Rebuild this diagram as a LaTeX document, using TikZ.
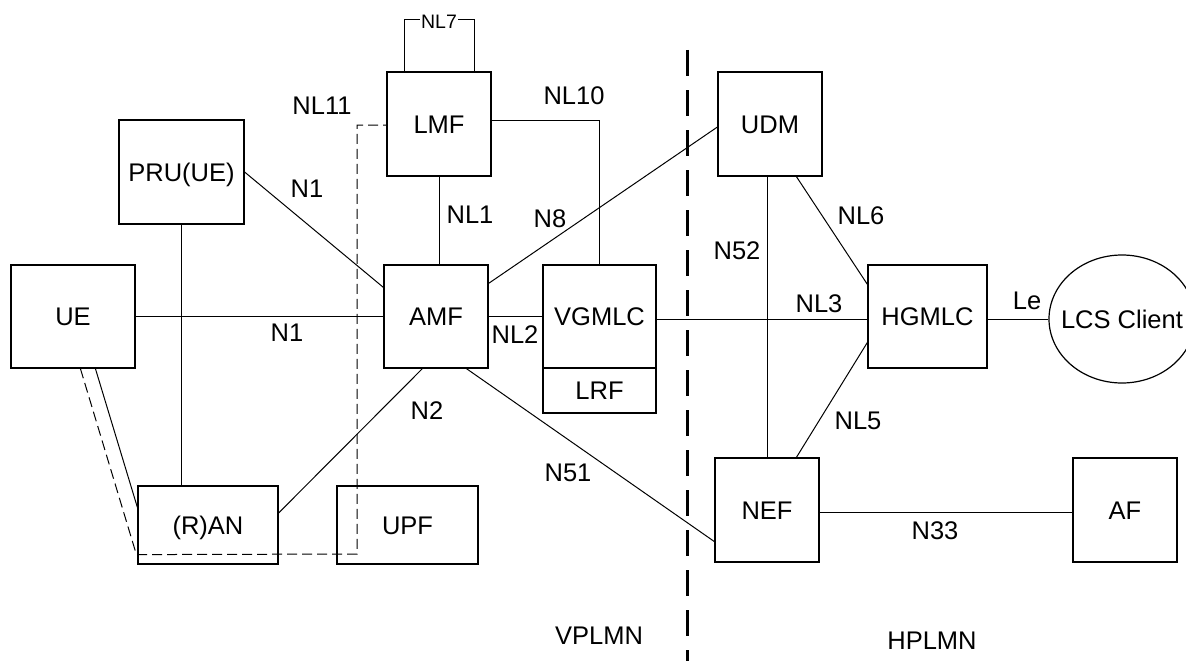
\documentclass[tikz,border=0pt]{standalone}
\usepackage{fontspec}
\setmainfont{Liberation Sans}
\usetikzlibrary{calc,shapes.geometric}
\begin{document}
\begin{tikzpicture}[x=1pt,y=-1pt,
  every node/.style={font=\fontsize{25.5}{30}\selectfont, text height=18.3pt, text depth=0pt, inner sep=0pt},
  nf/.style={draw, line width=1.2pt, minimum width=#1, minimum height=104pt},
  nf/.default=104pt,
  lbl/.style={},
  conn/.style={line width=1pt},
  thin dash/.style={line width=1pt, dash pattern=on 10pt off 5pt},
  divider/.style={line width=3pt, dash pattern=on 26pt off 14pt}]
\useasboundingbox (0,0) rectangle (1186,661);
% network functions
\node[nf=124pt, minimum height=103pt] (UE) at (73,316.5) {UE};
\node[nf=125pt] (PRU) at (181.5,172) {PRU(UE)};
\node[nf=140pt, minimum height=78pt] (RAN) at (208,525) {(R)AN};
\node[nf=141pt, minimum height=78pt] (UPF) at (407.5,525) {UPF};
\node[nf] (LMF) at (439,124) {LMF};
\node[nf, minimum height=103pt] (AMF) at (436,316.5) {AMF};
\node[nf=113pt, minimum height=103pt] (VGMLC) at (599.5,316.5) {VGMLC};
\node[nf=113pt, minimum height=45pt] (LRF) at (599.5,390.5) {LRF};
\node[nf] (UDM) at (770,124) {UDM};
\node[nf=119pt, minimum height=103pt] (HGMLC) at (927.5,316.5) {HGMLC};
\node[nf] (NEF) at (767,510) {NEF};
\node[nf] (AF) at (1125,510) {AF};
\node[draw, line width=1.2pt, ellipse, inner xsep=-10pt, minimum width=146pt, minimum height=128pt] (LCS) at (1122,319) {LCS Client};
% divider
\coordinate (divtop) at (687,50);
\coordinate (divbot) at (687,661);
\draw[divider] (divtop) -- (divbot);
% connectors
\draw[conn] (UE.east) -- (UE.east -| AMF.west);
\draw[conn] (PRU.east) -- ($(AMF.north west)+(0,23)$);
\draw[conn] (PRU.south) -- (PRU.south |- RAN.north);
\draw[conn] ($(UE.south west)+(85,0)$) -- ($(RAN.north west)+(0,22)$);
\coordinate (dA) at (357,554);
\coordinate (dB) at (357,125);
\draw[thin dash] ($(UE.south west)+(70,0)$) -- ($(RAN.south west)+(-1,-10)$) -- (dA) -- (dB) -- (dB -| LMF.west);
\draw[conn] ($(RAN.east)+(0,-12)$) -- ($(AMF.south west)+(39,0)$);
\draw[conn] (LMF.south) -- (LMF.south |- AMF.north);
\draw[conn] ($(LMF.east)+(0,-4)$) -| (VGMLC.north);
\node[font=\fontsize{19.5}{22}\selectfont, text height=14pt, inner sep=1pt] (NL7) at (439,22) {NL7};
\draw[conn] ($(LMF.north west)+(18,0)$) |- ($(NL7.west)+(0,-2)$);
\draw[conn] ($(NL7.east)+(0,-2)$) -| ($(LMF.north east)+(-17,0)$);
\draw[conn] ($(AMF.north east)+(0,19)$) -- ($(UDM.west)+(0,3)$);
\draw[conn] ($(AMF.south west)+(83,0)$) -- ($(NEF.south west)+(0,-21)$);
\draw[conn] (AMF.east) -- (AMF.east -| VGMLC.west);
\coordinate (vgR) at ($(VGMLC.east)+(0,2.5)$);
\draw[conn] (vgR) -- (vgR -| HGMLC.west);
\draw[conn] (NEF.north |- UDM.south) -- (NEF.north);
\draw[conn] ($(UDM.south west)+(79,0)$) -- ($(HGMLC.north west)+(0,20)$);
\draw[conn] ($(HGMLC.north west)+(0,78)$) -- ($(NEF.north west)+(82,0)$);
\coordinate (hgR) at ($(HGMLC.east)+(0,2.5)$);
\draw[conn] (hgR) -- (hgR -| LCS.west);
\coordinate (nefR) at ($(NEF.east)+(0,2)$);
\draw[conn] (nefR) -- (nefR -| AF.west);
% labels
\node[lbl] (lN1a) at (307,188) {N1};
\node[lbl] (lN1b) at (287,332) {N1};
\node[lbl] (lNL11) at (322,105) {NL11};
\node[lbl] (lNL10) at (574,95) {NL10};
\node[lbl] (lNL1) at (470,214) {NL1};
\node[lbl] (lN8) at (550,218) {N8};
\node[lbl] (lNL2) at (515,334) {NL2};
\node[lbl] (lN2) at (427,410) {N2};
\node[lbl] (lN51) at (568,472) {N51};
\node[lbl] (lN52) at (737,250) {N52};
\node[lbl] (lNL6) at (861,215) {NL6};
\node[lbl] (lNL3) at (819,303) {NL3};
\node[lbl] (lLe) at (1027,300) {Le};
\node[lbl] (lNL5) at (858,420) {NL5};
\node[lbl] (lN33) at (935,530) {N33};
\node[lbl] (lV) at (599,635) {VPLMN};
\node[lbl] (lH) at (932,640) {HPLMN};
\end{tikzpicture}
\end{document}
